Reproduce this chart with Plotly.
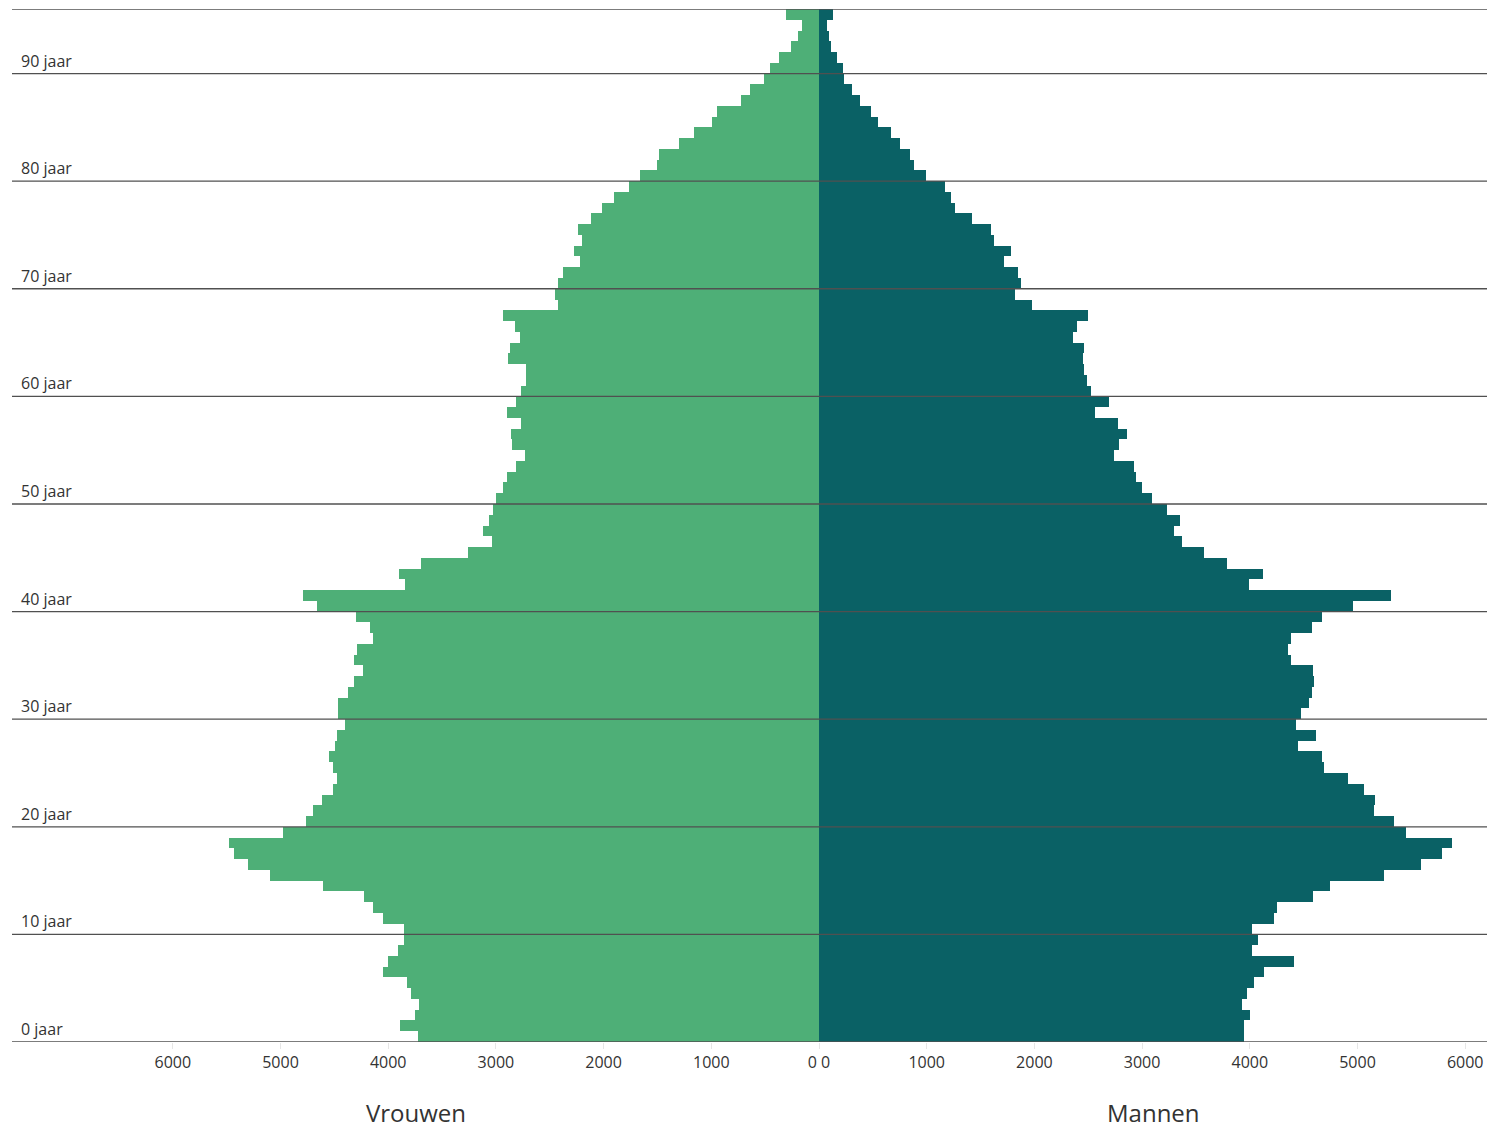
import plotly.graph_objects as go

ages = list(range(0, 96))

vrouwen = [3726, 3887, 3751, 3717, 3791, 3829, 4051, 3999, 3912, 3850,
           3850, 4051, 4138, 4228, 4602, 5100, 5302, 5429, 5475, 4974,
           4763, 4701, 4612, 4516, 4478, 4516, 4550, 4491, 4478, 4401,
           4463, 4463, 4376, 4314, 4231, 4314, 4290, 4141, 4166, 4302,
           4664, 4788, 3841, 3900, 3698, 3262, 3039, 3123, 3061, 3024,
           2999, 2937, 2900, 2813, 2727, 2851, 2863, 2764, 2900, 2813,
           2764, 2718, 2718, 2888, 2872, 2779, 2826, 2937, 2427, 2448,
           2427, 2377, 2216, 2275, 2204, 2241, 2114, 2012, 1900, 1764,
           1662, 1501, 1486, 1300, 1164, 990, 950, 727, 638, 514,
           452, 374, 263, 198, 161, 309]

mannen = [3949, 3949, 3999, 3925, 3974, 4036, 4135, 4410, 4024, 4073,
          4024, 4228, 4250, 4590, 4748, 5249, 5587, 5787, 5874, 5450,
          5339, 5151, 5163, 5063, 4915, 4689, 4673, 4451, 4612, 4426,
          4478, 4553, 4574, 4599, 4590, 4385, 4352, 4385, 4574, 4673,
          4961, 5314, 3990, 4126, 3788, 3575, 3373, 3299, 3349, 3234,
          3089, 3002, 2946, 2925, 2739, 2785, 2860, 2773, 2566, 2696,
          2522, 2485, 2463, 2451, 2463, 2361, 2398, 2501, 1975, 1820,
          1873, 1848, 1715, 1786, 1625, 1597, 1421, 1263, 1223, 1173,
          997, 885, 848, 749, 672, 551, 486, 384, 309, 235,
          226, 170, 111, 96, 77, 133]

age_ticks = [0, 10, 20, 30, 40, 50, 60, 70, 80, 90]
age_labels = [f"{a} jaar" for a in age_ticks]
top_age = 96

x_tick_vals = [-6000, -5000, -4000, -3000, -2000, -1000, 0, 1000, 2000, 3000, 4000, 5000, 6000]
x_tick_text = ["6000", "5000", "4000", "3000", "2000", "1000", "0 0",
               "1000", "2000", "3000", "4000", "5000", "6000"]

GREEN = "#4EAF77"
TEAL = "#0A6165"
FONT = "Open Sans"

fig = go.Figure()
fig.add_trace(go.Bar(
    y=[a + 0.5 for a in ages], x=[-v for v in vrouwen], orientation="h",
    width=1.0, marker=dict(color=GREEN, line=dict(width=0)), name="Vrouwen",
    customdata=vrouwen, hovertemplate="%{customdata}<extra>Vrouwen</extra>"))
fig.add_trace(go.Bar(
    y=[a + 0.5 for a in ages], x=mannen, orientation="h",
    width=1.0, marker=dict(color=TEAL, line=dict(width=0)), name="Mannen",
    hovertemplate="%{x}<extra>Mannen</extra>"))

# horizontal reference lines above bars
for v in age_ticks + [top_age]:
    fig.add_shape(type="line", xref="paper", x0=0, x1=1, yref="y", y0=v, y1=v,
                  line=dict(color="#505050", width=1.3), layer="above")

for v, lab in zip(age_ticks, age_labels):
    fig.add_annotation(x=0.005, xref="paper", xanchor="left", y=v, yref="y",
                       yanchor="bottom", yshift=0, text=lab, showarrow=False,
                       font=dict(family=FONT, size=16, color="#333333"))

plot_h = 1042 - 9
title_y = -(1112 - 1042) / plot_h
fig.add_annotation(x=(819 - 12) / 2 / 1475, xref="paper", xanchor="center",
                   y=title_y, yref="paper", yanchor="middle",
                   text="Vrouwen", showarrow=False,
                   font=dict(family=FONT, size=24, color="#333333"))
fig.add_annotation(x=(819 - 12 + (1487 - 819) / 2) / 1475, xref="paper", xanchor="center",
                   y=title_y, yref="paper", yanchor="middle",
                   text="Mannen", showarrow=False,
                   font=dict(family=FONT, size=24, color="#333333"))

fig.update_layout(
    width=1502, height=1131,
    margin=dict(l=12, r=15, t=9, b=89),
    paper_bgcolor="white", plot_bgcolor="white",
    barmode="overlay", bargap=0, showlegend=False,
    xaxis=dict(range=[(12 - 819) / 0.1077, (1487 - 819) / 0.1077],
               tickvals=x_tick_vals, ticktext=x_tick_text,
               showgrid=False, zeroline=False, showline=False,
               ticks="outside", ticklen=6, tickcolor="#e6e6e6",
               tickfont=dict(family=FONT, size=16, color="#333333")),
    yaxis=dict(range=[0, top_age], showgrid=False, zeroline=False,
               showticklabels=False, showline=False, fixedrange=True),
)

fig.write_html("out.html", config={"displayModeBar": False},
               post_script="document.body.style.margin='0';")
